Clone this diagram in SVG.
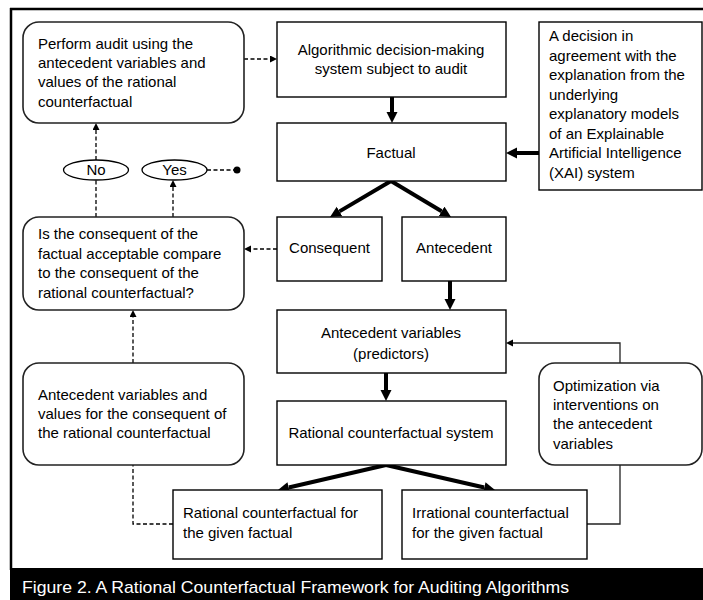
<svg xmlns="http://www.w3.org/2000/svg" width="703" height="600" viewBox="0 0 703 600">
<style>
text{font-family:"Liberation Sans",Arial,sans-serif;font-size:15px;fill:#000}
.c{text-anchor:middle}
.box{fill:#fff;stroke:#000;stroke-width:1.4}
.rbox{fill:#fff;stroke:#222;stroke-width:1.6}
.thick{fill:none;stroke:#000;stroke-width:4}
.dash{fill:none;stroke:#000;stroke-width:1.3;stroke-dasharray:4 2.5}
.thin{fill:none;stroke:#222;stroke-width:1.3}
.cap{fill:#fff;font-size:17px}
</style>
<defs>
<marker id="big" markerUnits="userSpaceOnUse" markerWidth="12" markerHeight="12" refX="0" refY="5.5" orient="auto"><path d="M0,0 L11,5.5 L0,11 z" fill="#000"/></marker>
<marker id="sm" markerUnits="userSpaceOnUse" markerWidth="8" markerHeight="8" refX="0" refY="3.5" orient="auto"><path d="M0,0 L7,3.5 L0,7 z" fill="#000"/></marker>
</defs>
<rect width="703" height="600" fill="#fff"/>
<g id="frame">
<line x1="10" y1="9" x2="703" y2="9" stroke="#000" stroke-width="2.5"/>
<line x1="11" y1="8" x2="11" y2="570" stroke="#000" stroke-width="2.5"/>
<rect x="10" y="568" width="693" height="32" fill="#000"/>
<text class="cap" x="22" y="593" textLength="547" lengthAdjust="spacingAndGlyphs">Figure 2. A Rational Counterfactual Framework for Auditing Algorithms</text>
</g>
<g id="connectors">
<line class="thick" x1="392" y1="97" x2="392" y2="112" marker-end="url(#big)"/>
<line class="thick" x1="539" y1="153" x2="517" y2="153" marker-end="url(#big)"/>
<line class="thick" x1="391" y1="181" x2="339.5" y2="211.4" marker-end="url(#big)"/>
<line class="thick" x1="391" y1="181" x2="441.6" y2="211.3" marker-end="url(#big)"/>
<line class="thick" x1="450" y1="281" x2="450" y2="299" marker-end="url(#big)"/>
<line class="thick" x1="386" y1="373" x2="386" y2="390" marker-end="url(#big)"/>
<line class="thick" x1="386" y1="465" x2="288.7" y2="487.5" marker-end="url(#big)"/>
<line class="thick" x1="386" y1="465" x2="484.3" y2="487.5" marker-end="url(#big)"/>
<line class="dash" x1="244" y1="59" x2="270" y2="59" marker-end="url(#sm)"/>
<line class="dash" x1="96" y1="160" x2="96" y2="130" marker-end="url(#sm)"/>
<line class="dash" x1="96" y1="217" x2="96" y2="180"/>
<line class="dash" x1="173" y1="217" x2="173" y2="187" marker-end="url(#sm)"/>
<line class="dash" x1="207" y1="170" x2="236" y2="170"/>
<circle cx="237" cy="170" r="3.5" fill="#000"/>
<line class="dash" x1="277" y1="249" x2="251" y2="249" marker-end="url(#sm)"/>
<path class="dash" d="M173,524 H133 V465"/>
<line class="dash" x1="133" y1="363" x2="133" y2="317" marker-end="url(#sm)"/>
<path class="thin" d="M587,524 H620 V465"/>
<path class="thin" d="M620,363 V343 H513" marker-end="url(#sm)"/>
</g>
<g id="perform">
<rect class="rbox" x="23" y="22" width="221" height="101" rx="16"/>
<text x="38" y="49">Perform audit using the</text>
<text x="38" y="68">antecedent variables and</text>
<text x="38" y="87">values of the rational</text>
<text x="38" y="107">counterfactual</text>
</g>
<g id="algorithmic">
<rect class="box" x="277" y="22" width="229" height="75"/>
<text class="c" x="391" y="55">Algorithmic decision-making</text>
<text class="c" x="391" y="74">system subject to audit</text>
</g>
<g id="factual">
<rect class="box" x="277" y="123" width="229" height="58"/>
<text class="c" x="391" y="158">Factual</text>
</g>
<g id="xai">
<rect class="box" x="539" y="22" width="163" height="168"/>
<text x="549" y="41">A decision in</text>
<text x="549" y="60.5">agreement with the</text>
<text x="549" y="80">explanation from the</text>
<text x="549" y="99.5">underlying</text>
<text x="549" y="119">explanatory models</text>
<text x="549" y="138.5">of an Explainable</text>
<text x="549" y="158">Artificial Intelligence</text>
<text x="549" y="177.5">(XAI) system</text>
</g>
<g id="no">
<ellipse cx="96" cy="170" rx="32.5" ry="10" fill="#fff" stroke="#000" stroke-width="1.3"/>
<text class="c" x="96" y="175">No</text>
</g>
<g id="yes">
<ellipse cx="174.5" cy="170" rx="32.5" ry="10" fill="#fff" stroke="#000" stroke-width="1.3"/>
<text class="c" x="174.5" y="175">Yes</text>
</g>
<g id="question">
<rect class="rbox" x="23" y="217" width="221" height="93" rx="16"/>
<text x="38" y="239">Is the consequent of the</text>
<text x="38" y="259">factual acceptable compare</text>
<text x="38" y="278">to the consequent of the</text>
<text x="38" y="298">rational counterfactual?</text>
</g>
<g id="consequent">
<rect class="box" x="277" y="217" width="105" height="64"/>
<text class="c" x="329.5" y="253">Consequent</text>
</g>
<g id="antecedent">
<rect class="box" x="402" y="217" width="104" height="64"/>
<text class="c" x="454" y="253">Antecedent</text>
</g>
<g id="antecedent-variables">
<rect class="box" x="277" y="310" width="229" height="63"/>
<text class="c" x="391" y="338">Antecedent variables</text>
<text class="c" x="391" y="359">(predictors)</text>
</g>
<g id="values">
<rect class="rbox" x="23" y="363" width="221" height="102" rx="16"/>
<text x="38" y="400">Antecedent variables and</text>
<text x="38" y="419">values for the consequent of</text>
<text x="38" y="438">the rational counterfactual</text>
</g>
<g id="rcs">
<rect class="box" x="277" y="401" width="229" height="64"/>
<text class="c" x="391" y="438">Rational counterfactual system</text>
</g>
<g id="optimization">
<rect class="rbox" x="539" y="363" width="163" height="102" rx="16"/>
<text x="553" y="391">Optimization via</text>
<text x="553" y="410">interventions on</text>
<text x="553" y="429">the antecedent</text>
<text x="553" y="449">variables</text>
</g>
<g id="rational">
<rect class="box" x="173" y="490" width="209" height="69"/>
<text x="183" y="518">Rational counterfactual for</text>
<text x="183" y="538">the given factual</text>
</g>
<g id="irrational">
<rect class="box" x="402" y="490" width="185" height="69"/>
<text x="412" y="518">Irrational counterfactual</text>
<text x="412" y="538">for the given factual</text>
</g>
</svg>
